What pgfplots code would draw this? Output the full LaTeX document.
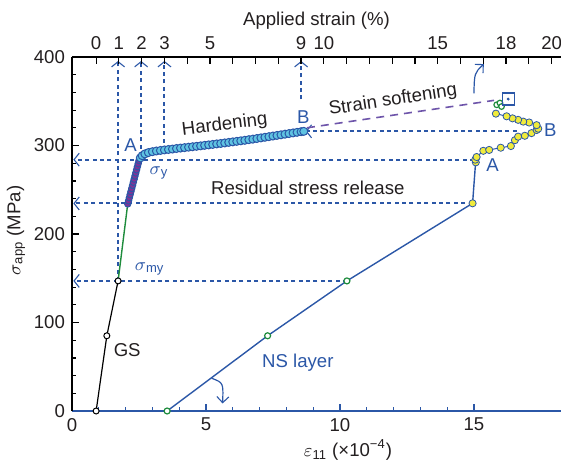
\documentclass[border=0pt]{standalone}
\usepackage{fontspec}
\setmainfont{Liberation Sans}
\usepackage{pgfplots}
\pgfplotsset{compat=1.18}
\usetikzlibrary{arrows.meta}
\definecolor{myblue}{RGB}{43,87,167}
\definecolor{mycyan}{RGB}{95,195,225}
\definecolor{myyellow}{RGB}{240,235,60}
\definecolor{mypurple}{RGB}{130,50,150}
\definecolor{mygreen}{RGB}{30,140,60}
\definecolor{softpurple}{RGB}{110,85,170}
\definecolor{textc}{RGB}{35,31,32}
\newcommand{\lfont}{\fontsize{9.3}{11}\selectfont}
\tikzset{
  guide/.style={myblue, line width=1pt, dash pattern=on 2pt off 1.7pt},
  chev/.style={-{Straight Barb[length=2.6pt,width=6.5pt,line width=0.55pt]}},
}
\begin{document}
\begin{tikzpicture}
\begin{axis}[
  scale only axis, width=244.5pt, height=177pt,
  xmin=0, xmax=18.25, ymin=0, ymax=400,
  axis x line*=bottom, axis y line*=left,
  axis line style={-},
  x axis line style={draw=myblue, line width=0.7pt},
  y axis line style={draw=black, line width=0.7pt},
  xtick={0,5,10,15}, minor x tick num=4,
  ytick={0,100,...,400}, minor y tick num=4,
  tick align=inside,
  major tick length=3.5pt, minor tick length=2pt,
  x tick style={myblue, line width=0.6pt},
  y tick style={black, line width=0.6pt},
  tick label style={font=\lfont, text=textc},
  /pgf/number format/assume math mode=true,
  clip=false,
]
\coordinate (ll) at (rel axis cs:0,0);
\coordinate (ur) at (rel axis cs:1,1);

% dashed guide lines
\addplot[guide, chev] coordinates {(1.72,147) (1.72,395.5)};
\addplot[guide, chev] coordinates {(2.58,288) (2.58,395.5)};
\addplot[guide, chev] coordinates {(3.45,295) (3.45,395.5)};
\addplot[guide, chev] coordinates {(8.55,352) (8.55,395.5)};
\addplot[guide, chev] coordinates {(15.0,284) (0.05,284)};
\addplot[guide, chev] coordinates {(14.95,234.5) (0.05,234.5)};
\addplot[guide, chev] coordinates {(10.26,147) (0.05,147)};
\addplot[guide, chev] coordinates {(16.6,316) (8.72,316)};
\addplot[softpurple, line width=0.8pt, dash pattern=on 4pt off 3pt] coordinates {(8.77,320) (15.75,351)};

% GS
\addplot[black, line width=0.6pt, mark=*, mark size=1.5pt, mark options={fill=white, draw=black, line width=0.5pt}]
  coordinates {(0.9,0) (1.3,85) (1.72,147)};
\addplot[mygreen, line width=0.7pt] coordinates {(1.72,147) (2.08,234)};
\addplot[only marks, mark=*, mark size=1.6pt, mark options={fill=mypurple, draw=myblue, line width=0.5pt}]
  coordinates {(2.08,234) (2.11,237.5) (2.14,241) (2.17,244.5) (2.20,248) (2.23,251.5) (2.26,255) (2.29,258.5) (2.32,262) (2.35,265.5) (2.38,269) (2.41,272.5) (2.44,276) (2.47,279.5) (2.50,283) (2.53,286)};
\addplot[only marks, mark=*, mark size=2pt, mark options={fill=mycyan, draw=myblue, line width=0.5pt}]
  coordinates {(2.55,286) (2.62,288.5) (2.72,290.5) (2.85,292) (3.0,293) (3.15,293.8) (3.3,294.4) (3.45,295) (3.6,295.5) (3.75,296) (3.9,296.6) (4.05,297.1) (4.2,297.6) (4.35,298.1) (4.5,298.6) (4.65,299.1) (4.8,299.6) (4.95,300.2) (5.1,300.7) (5.25,301.2) (5.4,301.8) (5.55,302.3) (5.7,302.9) (5.85,303.5) (6.0,304.1) (6.15,304.7) (6.3,305.3) (6.45,305.9) (6.6,306.6) (6.75,307.2) (6.9,307.9) (7.05,308.6) (7.2,309.3) (7.35,310) (7.5,310.7) (7.65,311.4) (7.8,312.1) (7.95,312.8) (8.1,313.5) (8.25,314.2) (8.4,314.9) (8.55,315.6) (8.65,316)};

% NS layer
\addplot[myblue, line width=0.7pt] coordinates {(3.55,0) (7.3,85) (10.26,147) (14.95,234.7) (15.07,284)};
\addplot[only marks, mark=*, mark size=1.5pt, mark options={fill=white, draw=mygreen, line width=0.6pt}]
  coordinates {(3.55,0) (7.3,85) (10.26,147)};
\addplot[myblue, line width=0.5pt, mark=*, mark size=1.8pt, mark options={fill=myyellow, draw=myblue, line width=0.4pt}]
  coordinates {(14.95,234.7)};
\addplot[myblue, line width=0.5pt, mark=*, mark size=1.8pt, mark options={fill=myyellow, draw=myblue, line width=0.4pt}]
  coordinates {(15.07,281) (15.05,284) (15.1,287) (15.35,294) (15.57,295) (16.0,297.5) (16.38,299.4) (16.53,306) (16.65,310) (16.9,311) (17.15,314) (17.34,317.5) (17.4,319) (17.34,323) (17.06,326) (16.84,327) (16.65,329) (16.44,330.7) (16.22,333) (15.82,336)};
\addplot[only marks, mark=*, mark size=1.4pt, mark options={fill=white, draw=mygreen, line width=0.6pt}]
  coordinates {(15.85,346) (15.97,348) (16.03,344)};
\addplot[only marks, mark=square, mark size=3pt, mark options={draw=myblue, line width=0.6pt}]
  coordinates {(16.28,352.5)};
\addplot[only marks, mark=*, mark size=0.5pt, mark options={fill=myblue, draw=myblue}]
  coordinates {(16.28,352.5)};

% curved arrows
\draw[myblue, line width=0.6pt, -{Straight Barb[length=3pt,width=6pt,line width=0.55pt]}]
  (axis cs:15.0,359) .. controls (axis cs:15.02,382) .. (axis cs:15.37,392);
\draw[myblue, line width=0.6pt, -{Straight Barb[length=3pt,width=6pt,line width=0.55pt]}]
  (axis cs:5.21,37) .. controls (axis cs:5.65,32) .. (axis cs:5.62,8.5);

% labels
\node[font=\lfont, text=textc, rotate=7] at (axis cs:5.7,323) {Hardening};
\node[font=\lfont, text=textc, rotate=8.7] at (axis cs:11.98,351) {Strain softening};
\node[font=\lfont, text=textc] at (axis cs:8.8,252) {Residual stress release};
\node[font=\lfont, text=myblue] at (axis cs:2.19,300.6) {A};
\node[font=\lfont, text=myblue] at (axis cs:8.63,332.5) {B};
\node[font=\lfont, text=myblue] at (axis cs:15.7,278) {A};
\node[font=\lfont, text=myblue] at (axis cs:17.85,317) {B};
\node[font=\lfont, text=myblue] at (axis cs:3.25,269) {$\sigma$\textsubscript{y}};
\node[font=\lfont, text=myblue] at (axis cs:2.9,160) {$\sigma$\textsubscript{my}};
\node[font=\lfont, text=textc] at (axis cs:2.06,69) {GS};
\node[font=\lfont, text=myblue] at (axis cs:8.43,55) {NS layer};
\node[font=\lfont, text=textc, rotate=90] at ([xshift=-28pt]axis cs:0,204) {$\sigma$\textsubscript{app} (MPa)};
\node[font=\lfont, text=textc] at ([yshift=-19.5pt]axis cs:10.3,0) {$\varepsilon$\textsubscript{11} (×10\textsuperscript{−4})};
\end{axis}
\begin{axis}[
  scale only axis, width=244.5pt, height=177pt,
  xmin=-1.0588, xmax=20.412, ymin=0, ymax=400,
  axis x line*=top, axis y line=none,
  axis line style={-, draw=black, line width=0.7pt},
  xtick={0,1,...,20},
  xticklabels={0,1,2,3,{},5,{},{},{},9,10,{},{},{},{},15,{},{},18,{},20},
  tick align=inside, major tick length=3.5pt,
  x tick style={black, line width=0.6pt},
  tick label style={font=\lfont, text=textc},
  xlabel={Applied strain (\%)},
  xlabel style={font=\lfont, text=textc, yshift=-3pt},
]
\end{axis}
\pgfresetboundingbox
\path ([xshift=-36pt,yshift=-24.5pt]ll) rectangle ([yshift=28.5pt]ur);
\end{tikzpicture}
\end{document}
